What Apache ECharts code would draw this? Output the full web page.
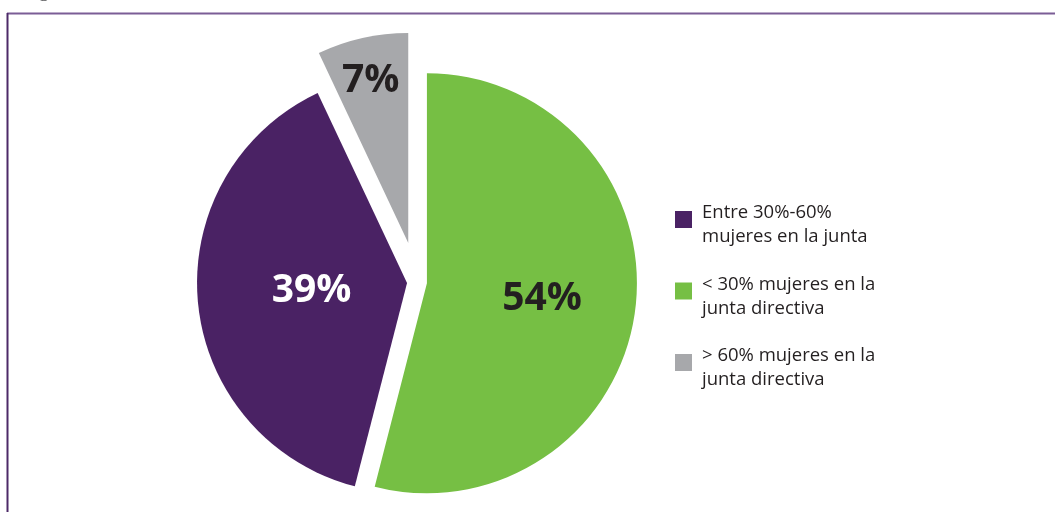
<!DOCTYPE html>
<html>
<head>
<meta charset="utf-8">
<script src="https://cdn.jsdelivr.net/npm/echarts@6/dist/echarts.min.js"></script>
<style>
html,body{margin:0;padding:0;background:#fff;}
#chart{width:1055px;height:512px;}
</style>
</head>
<body>
<div id="chart"></div>
<script>
// Slices in clockwise order starting at 12 o'clock
const categories = ['< 30% mujeres en la\njunta directiva', 'Entre 30%-60%\nmujeres en la junta', '> 60% mujeres en la\njunta directiva'];
const values = [54, 39, 7];
const colors = ['#76bf44', '#4a2264', '#a7a8ab'];
const labelColors = ['#231f20', '#ffffff', '#231f20'];
const legendOrder = [1, 0, 2];
const explode = [10, 10, 40];
const labelShift = [[8, 2], [12, -2], [-14, -57]];

function makeSeries(k) {
  return {
    type: 'pie',
    center: [417, 282],
    radius: 210,
    startAngle: 90,
    clockwise: true,
    animation: false,
    silent: true,
    selectedMode: 'multiple',
    selectedOffset: explode[k],
    avoidLabelOverlap: false,
    emphasis: { disabled: true },
    labelLine: { show: false },
    label: { show: false },
    labelLayout: { dx: labelShift[k][0], dy: labelShift[k][1] },
    select: { itemStyle: { borderWidth: 0 } },
    data: categories.map((n, i) => ({
      name: n,
      value: values[i],
      selected: i === k,
      itemStyle: { color: i === k ? colors[i] : 'rgba(0,0,0,0)', borderWidth: 0 },
      select: { itemStyle: { color: i === k ? colors[i] : 'rgba(0,0,0,0)', borderWidth: 0 } },
      label: {
        show: i === k,
        position: 'inside',
        formatter: '{c}%',
        fontFamily: 'Open Sans',
        fontWeight: 'bold',
        fontSize: 39,
        color: labelColors[k]
      }
    }))
  };
}

const chart = echarts.init(document.getElementById('chart'), null, { renderer: 'canvas' });
chart.setOption({
  backgroundColor: '#ffffff',
  animation: false,
  legend: {
    orient: 'vertical',
    left: 670,
    top: 185,
    itemWidth: 17,
    itemHeight: 17,
    itemGap: 15,
    icon: 'rect',
    selectedMode: false,
    formatter: function (name) {
      return '{s| }\n' + name.split('\n').map(l => '{a|' + l + '}').join('\n');
    },
    textStyle: {
      fontFamily: 'Open Sans',
      fontSize: 18.5,
      color: '#231f20',
      padding: [0, 0, 0, 5],
      rich: {
        s: { fontSize: 8, lineHeight: 11, height: 11 },
        a: { fontFamily: 'Open Sans', fontSize: 18.5, lineHeight: 24, color: '#231f20' }
      }
    },
    data: legendOrder.map(i => ({ name: categories[i], itemStyle: { color: colors[i] } }))
  },
  graphic: [
    { type: 'text', x: 22, y: -20, silent: true,
      style: { text: 'Figura', font: '300 21px Lato', fill: '#58595b' } },
    { type: 'line', silent: true, shape: { x1: 7, y1: 13.5, x2: 1055, y2: 13.5 },
      style: { stroke: '#7b5d96', lineWidth: 2 } },
    { type: 'line', silent: true, shape: { x1: 7.5, y1: 13, x2: 7.5, y2: 512 },
      style: { stroke: '#4d2a68', lineWidth: 2 } }
  ],
  series: [makeSeries(0), makeSeries(1), makeSeries(2)]
});
</script>
</body>
</html>
